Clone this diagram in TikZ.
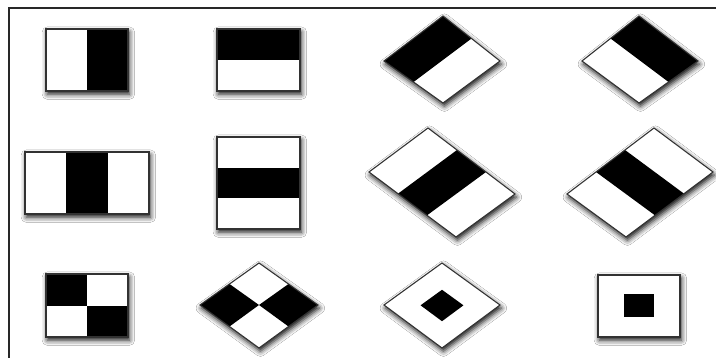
\documentclass[tikz,border=0pt]{standalone}
\usepackage{xcolor}
\usepackage{tikz}
\usetikzlibrary{calc,shadows.blur}
\definecolor{edgegray}{RGB}{50, 50, 50}
\definecolor{framegray}{RGB}{40, 40, 40}

\tikzset{
  featbg/.style={fill=white, blur shadow={shadow xshift=0.8pt, shadow yshift=-1.8pt, shadow blur radius=3pt, shadow opacity=95}},
  featline/.style={draw=edgegray, line width=0.6pt, line join=miter},
  blk/.style={fill=black}
}

\begin{document}
\begin{tikzpicture}[x=0.02cm, y=-0.02cm]
			\useasboundingbox (0,0) rectangle (716,358);
			\fill[white] (0,0) rectangle (716,358);

			% FRAME
			\draw[framegray, line width=0.9pt] (716,8) -- (9,8) -- (9,358);

			% ROW 1: EDGE FEATURES
			\fill[featbg] (46,29) rectangle (128,91);
			\fill[blk] (87,29) rectangle (128,91);
			\draw[featline] (46,29) rectangle (128,91);

			\fill[featbg] (217,29) rectangle (300,91);
			\fill[blk] (217,29) rectangle (300,60);
			\draw[featline] (217,29) rectangle (300,91);

			\coordinate (aL) at (384,61); \coordinate (aT) at (443,16);
			\coordinate (aR) at (500,61); \coordinate (aB) at (443,103);
			\fill[featbg] (aL) -- (aT) -- (aR) -- (aB) -- cycle;
			\fill[blk] (aL) -- (aT) -- ($(aT)!0.5!(aR)$) -- ($(aL)!0.5!(aB)$) -- cycle;
			\draw[featline] (aL) -- (aT) -- (aR) -- (aB) -- cycle;

			\coordinate (bL) at (582,61); \coordinate (bT) at (639,16);
			\coordinate (bR) at (698,61); \coordinate (bB) at (639,103);
			\fill[featbg] (bL) -- (bT) -- (bR) -- (bB) -- cycle;
			\fill[blk] (bT) -- (bR) -- ($(bR)!0.5!(bB)$) -- ($(bL)!0.5!(bT)$) -- cycle;
			\draw[featline] (bL) -- (bT) -- (bR) -- (bB) -- cycle;

			% ROW 2: LINE FEATURES
			\fill[featbg] (25,152) rectangle (149,214);
			\fill[blk] (66.3,152) rectangle (107.7,214);
			\draw[featline] (25,152) rectangle (149,214);

			\fill[featbg] (217,137) rectangle (300,229);
			\fill[blk] (217,167.7) rectangle (300,198.3);
			\draw[featline] (217,137) rectangle (300,229);

			\coordinate (cL) at (369,172); \coordinate (cT) at (428,128);
			\coordinate (cR) at (515,194); \coordinate (cB) at (456,237);
			\fill[featbg] (cL) -- (cT) -- (cR) -- (cB) -- cycle;
			\fill[blk] ($(cT)!1/3!(cR)$) -- ($(cT)!2/3!(cR)$) -- ($(cL)!2/3!(cB)$) -- ($(cL)!1/3!(cB)$) -- cycle;
			\draw[featline] (cL) -- (cT) -- (cR) -- (cB) -- cycle;

			\coordinate (dL) at (567,194); \coordinate (dT) at (654,128);
			\coordinate (dR) at (713,172); \coordinate (dB) at (626,237);
			\fill[featbg] (dL) -- (dT) -- (dR) -- (dB) -- cycle;
			\fill[blk] ($(dL)!1/3!(dT)$) -- ($(dL)!2/3!(dT)$) -- ($(dB)!2/3!(dR)$) -- ($(dB)!1/3!(dR)$) -- cycle;
			\draw[featline] (dL) -- (dT) -- (dR) -- (dB) -- cycle;

			% ROW 3: FOUR-RECTANGLE AND CENTRE FEATURES
			\fill[featbg] (46,274) rectangle (128,337);
			\fill[blk] (46,274) rectangle (87,306);
			\fill[blk] (87,306) rectangle (128,337);
			\draw[featline] (46,274) rectangle (128,337);

			\coordinate (eL) at (200,305); \coordinate (eT) at (259,263);
			\coordinate (eR) at (318,305); \coordinate (eB) at (259,348);
			\coordinate (eC) at ($(eL)!0.5!(eR)$);
			\fill[featbg] (eL) -- (eT) -- (eR) -- (eB) -- cycle;
			\fill[blk] (eL) -- ($(eL)!0.5!(eT)$) -- (eC) -- ($(eL)!0.5!(eB)$) -- cycle;
			\fill[blk] (eR) -- ($(eR)!0.5!(eT)$) -- (eC) -- ($(eR)!0.5!(eB)$) -- cycle;
			\draw[featline] (eL) -- (eT) -- (eR) -- (eB) -- cycle;

			\coordinate (fL) at (384,305); \coordinate (fT) at (442,263);
			\coordinate (fR) at (500,305); \coordinate (fB) at (442,348);
			\coordinate (fC) at (442,305.5);
			\fill[featbg] (fL) -- (fT) -- (fR) -- (fB) -- cycle;
			\fill[blk] ($(fC)!0.37!(fL)$) -- ($(fC)!0.37!(fT)$) -- ($(fC)!0.37!(fR)$) -- ($(fC)!0.37!(fB)$) -- cycle;
			\draw[featline] (fL) -- (fT) -- (fR) -- (fB) -- cycle;

			\fill[featbg] (598,275) rectangle (680,337);
			\fill[blk] (624,294) rectangle (654,317);
			\draw[featline] (598,275) rectangle (680,337);

		\end{tikzpicture}
\end{document}
